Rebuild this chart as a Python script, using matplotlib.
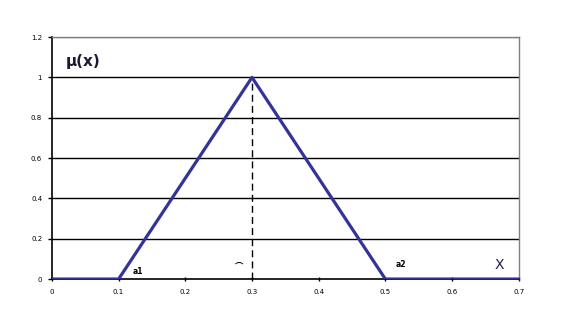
import numpy as np
import matplotlib.pyplot as plt

# membership function points
x = [0, 0.1, 0.3, 0.5, 0.7]
mu = [0, 0, 1, 0, 0]
peak_x = 0.3
xticks = [0, 0.1, 0.2, 0.3, 0.4, 0.5, 0.6, 0.7]
yticks = [0, 0.2, 0.4, 0.6, 0.8, 1, 1.2]

fig = plt.figure(figsize=(5.77, 3.31), dpi=100)
ax = fig.add_axes([0.090, 0.157, 0.809, 0.731])

for yv in yticks[1:-1]:
    ax.axhline(yv, color='black', lw=1, zorder=1)
ax.axhline(yticks[-1], color='#808080', lw=1, zorder=1)

ax.plot(x, mu, color='#333399', lw=2.3, zorder=3)
ax.plot([peak_x, peak_x], [0, 1], color='black', lw=1, ls=(0, (5, 3)), zorder=2)

ax.set_xlim(0, 0.7)
ax.set_ylim(0, 1.2)
ax.set_xticks(xticks)
ax.set_xticklabels(['0', '0.1', '0.2', '0.3', '0.4', '0.5', '0.6', '0.7'])
ax.set_yticks(yticks)
ax.set_yticklabels(['0', '0.2', '0.4', '0.6', '0.8', '1', '1.2'])
ax.tick_params(labelsize=5, length=3, width=1, colors='black')
ax.tick_params(axis='x', direction='inout', pad=6)
ax.tick_params(axis='y', direction='out', pad=4)

for s in ['left', 'bottom']:
    ax.spines[s].set_color('black')
    ax.spines[s].set_linewidth(1.2)
for s in ['top', 'right']:
    ax.spines[s].set_color('#808080')
    ax.spines[s].set_linewidth(1)

ax.text(0.021, 1.08, 'μ(x)', fontsize=11, fontweight='bold', color='#1a1a33',
        va='center', ha='left')
ax.text(0.671, 0.07, 'X', fontsize=10, color='#1f1f4f', va='center', ha='center')
ax.text(0.129, 0.035, 'a1', fontsize=5.5, fontweight='bold', va='center', ha='center')
ax.text(0.524, 0.07, 'a2', fontsize=5.5, fontweight='bold', va='center', ha='center')
ax.text(0.281, 0.065, '⌒', fontsize=6, fontweight='bold', va='center', ha='center',
        family=['Noto Sans CJK JP', 'DejaVu Sans'])

fig.savefig('out.png', dpi=100)
